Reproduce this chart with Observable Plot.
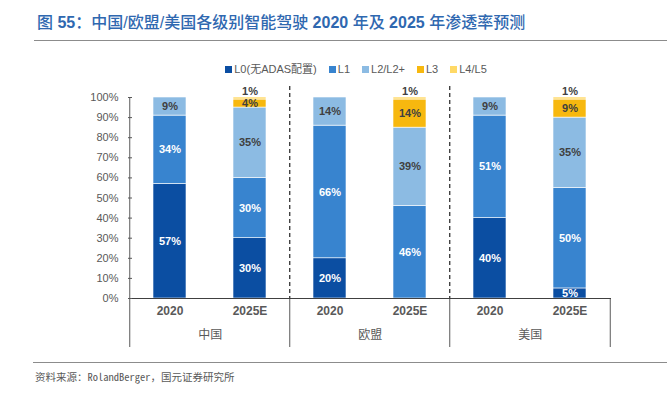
<!DOCTYPE html>
<html><head><meta charset="utf-8">
<script src="https://cdn.jsdelivr.net/npm/d3@7"></script>
<script src="https://cdn.jsdelivr.net/npm/@observablehq/plot@0.6"></script>
<style>
body{margin:0;width:667px;height:398px;position:relative;background:#fff;overflow:hidden;font-family:"Liberation Sans",Arial,"Noto Sans CJK SC",sans-serif;}
#title{position:absolute;left:37px;top:12px;font-size:16px;line-height:21px;color:#2f68b0;font-family:"Liberation Sans","Noto Sans CJK SC",sans-serif;font-weight:500;white-space:nowrap;}
#title b{font-weight:700;}
#tline{position:absolute;left:34px;right:0;top:40px;height:0;border-top:1.5px solid #8c8c8c;}
#legend{position:absolute;left:0;width:712px;top:62px;display:flex;justify-content:center;font-size:11px;line-height:14px;color:#595959;white-space:nowrap;}
#legend .it{display:flex;align-items:center;margin:0 6px;}
#legend .sw{width:7px;height:7px;margin-right:2px;display:inline-block;}
#chart{position:absolute;left:0;top:80px;}
#bline{position:absolute;left:33px;right:0;top:362px;height:0;border-top:1.5px solid #8c8c8c;}
#source{position:absolute;left:35px;top:370px;font-size:10.5px;line-height:14px;color:#595959;font-family:"Noto Sans Mono CJK SC","Noto Sans CJK SC",monospace;white-space:nowrap;}
</style>
</head><body>
<div id="title">图 <b>55</b>：中国/欧盟/美国各级别智能驾驶 <b>2020</b> 年及 <b>2025</b> 年渗透率预测</div>
<div id="tline"></div>
<div id="legend"></div>
<div id="chart"></div>
<div id="bline"></div>
<div id="source">资料来源：RolandBerger，国元证券研究所</div>
<script>
const regions = ["中国", "欧盟", "美国"];
const years = ["2020", "2025E"];
const levels = ["L0(无ADAS配置)", "L1", "L2/L2+", "L3", "L4/L5"];
const colors = ["#0b4ea2", "#3884cf", "#8cbbe3", "#f7b80f", "#ffd966"];
// values per bar: 中国2020, 中国2025E, 欧盟2020, 欧盟2025E, 美国2020, 美国2025E
const L0 = [57, 30, 20, 0, 40, 5];
const L1 = [34, 30, 66, 46, 51, 50];
const L2 = [9, 35, 14, 39, 9, 35];
const L3 = [0, 4, 0, 14, 0, 9];
const L4 = [0, 1, 0, 1, 0, 1];
const yTicks = [0, 10, 20, 30, 40, 50, 60, 70, 80, 90, 100];

const series = [L0, L1, L2, L3, L4];
const keys = regions.flatMap(r => years.map(y => r + " " + y));
const rows = levels.flatMap((lv, i) => series[i].map((v, j) => ({key: keys[j], level: lv, idx: i, value: v})));

// legend
const lg = document.getElementById("legend");
levels.forEach((lv, i) => {
  const it = document.createElement("span"); it.className = "it";
  const sw = document.createElement("span"); sw.className = "sw"; sw.style.background = colors[i];
  it.appendChild(sw); it.appendChild(document.createTextNode(lv)); lg.appendChild(it);
});

const W = 667, H = 275, mL = 128, mR = 56, mT = 17, mB = 57;
const step = (W - mL - mR) / keys.length;
const half = step / 2;
const firstOfGroup = regions.map(r => r + " " + years[0]);
const inner = firstOfGroup.slice(1);
const lastKey = keys[keys.length - 1];
const belowLen = 49;

const chart = Plot.plot({
  width: W, height: H,
  marginLeft: mL, marginRight: mR, marginTop: mT, marginBottom: mB,
  style: {fontFamily: '"Liberation Sans", Arial, "Noto Sans CJK SC", sans-serif', fontSize: "11px", color: "#595959", background: "transparent", overflow: "visible"},
  x: {domain: keys, paddingInner: 0.59, paddingOuter: 0.295, label: null},
  y: {domain: [0, 100], label: null},
  color: {domain: levels, range: colors},
  marks: [
    Plot.barY(rows, {x: "key", y: "value", fill: "level", stroke: "white", strokeWidth: 0.6}),
    Plot.text(rows, Plot.stackY({x: "key", y: "value", z: "level",
      text: d => (d.value > 0 && d.idx < 2) ? d.value + "%" : null,
      fill: "white", fontWeight: "bold", fontSize: 11})),
    Plot.text(rows, Plot.stackY({x: "key", y: "value", z: "level",
      text: d => (d.value > 0 && (d.idx === 2 || d.idx === 3)) ? d.value + "%" : null,
      fill: "#404040", fontWeight: "bold", fontSize: 11})),
    Plot.text(rows, Plot.stackY2({x: "key", y: "value", z: "level",
      text: d => (d.value > 0 && d.idx === 4) ? d.value + "%" : null,
      fill: "#404040", fontWeight: "bold", fontSize: 11, dy: -6})),
    // dashed group dividers inside the plot
    Plot.ruleX(inner, {x: d => d, dx: -half, insetTop: -11, stroke: "#222", strokeWidth: 1.2, strokeDasharray: "4,3"}),
    // y axis line extending down through the category area
    Plot.ruleX([keys[0]], {x: d => d, dx: -half, insetBottom: -belowLen, stroke: "#595959", strokeWidth: 1}),
    // solid separators below the axis
    Plot.ruleX(inner, {x: d => d, dx: -half, y1: 0, y2: 0, insetBottom: -belowLen, stroke: "#595959", strokeWidth: 1}),
    Plot.ruleX([lastKey], {x: d => d, dx: half, y1: 0, y2: 0, insetBottom: -belowLen, stroke: "#595959", strokeWidth: 1}),
    Plot.ruleY([0], {stroke: "#404040", strokeWidth: 1}),
    Plot.axisY({ticks: yTicks, tickFormat: d => d + "%", tickSize: -4, tickPadding: 14, color: "#595959", fontSize: 11, label: null}),
    Plot.axisX({tickSize: 0, tickPadding: 8, tickFormat: d => d.split(" ")[1], fontWeight: "bold", fontSize: 12, color: "#595959", label: null}),
    Plot.text(firstOfGroup, {x: d => d, dx: half, frameAnchor: "bottom", dy: 40, text: d => d.split(" ")[0], fill: "#595959", fontSize: 12, fontFamily: '"Noto Sans CJK SC", sans-serif', letterSpacing: "3px"})
  ]
});
document.getElementById("chart").appendChild(chart);
</script>
</body></html>
